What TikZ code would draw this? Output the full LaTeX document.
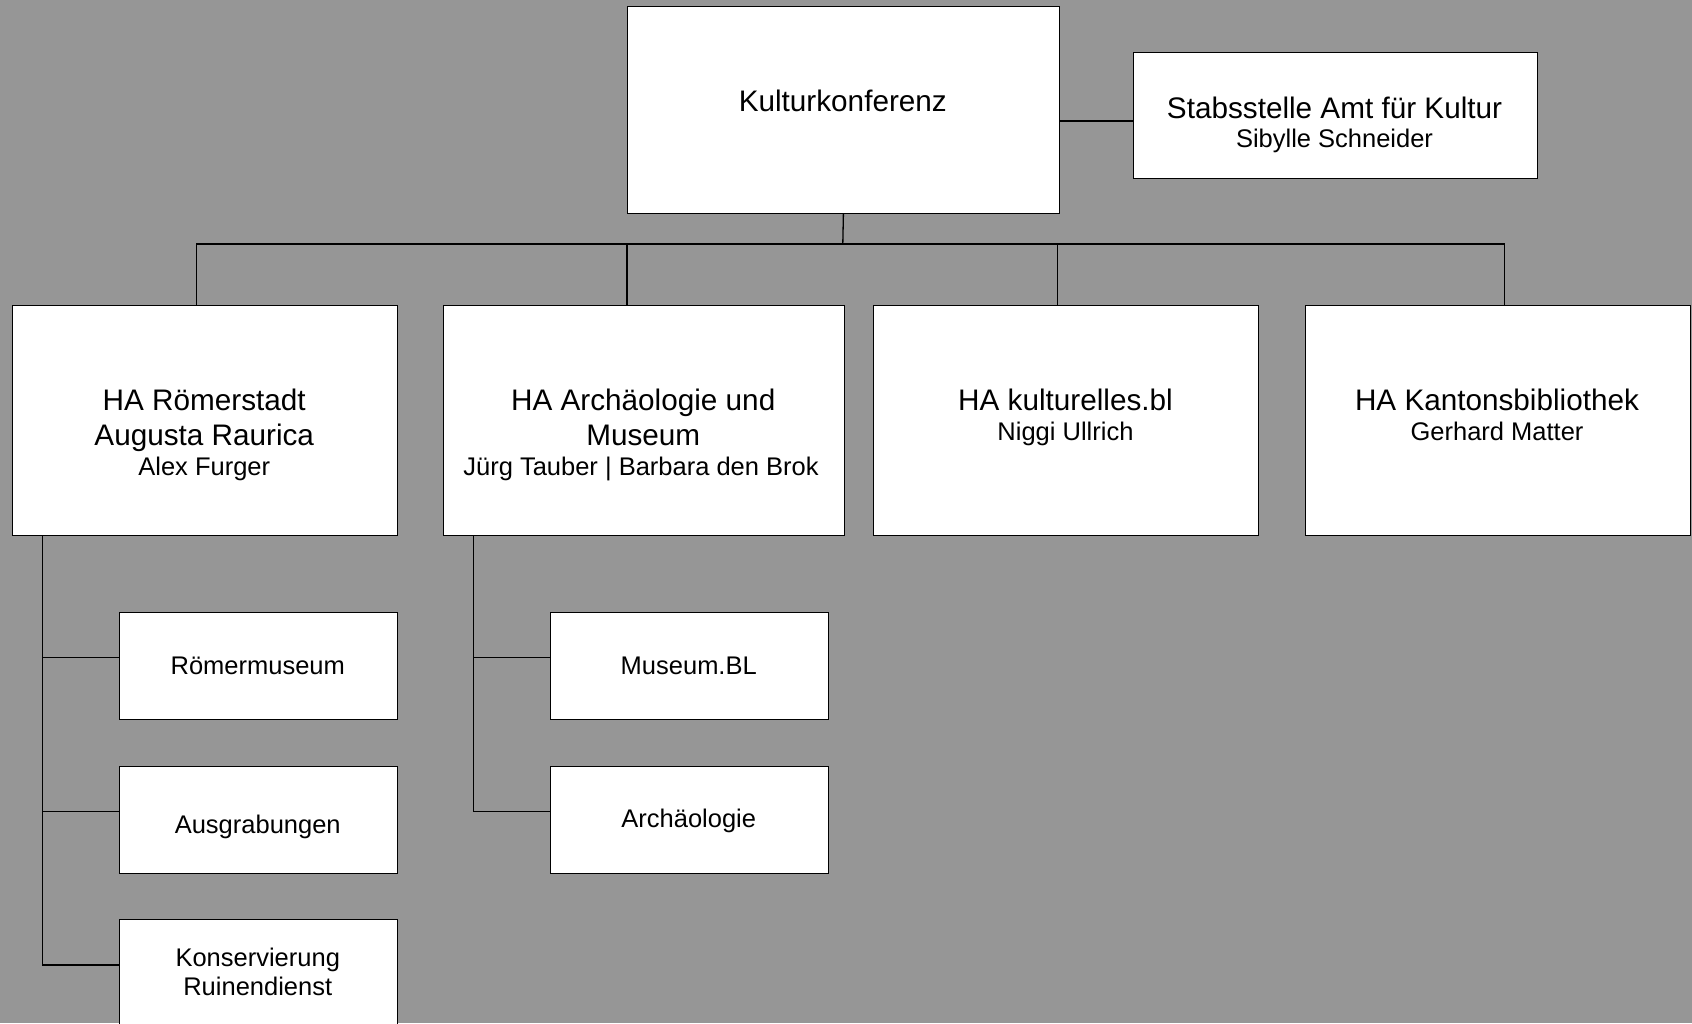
\documentclass[tikz,border=0pt]{standalone}
\usepackage{fontspec}
\setmainfont{Liberation Sans}
\definecolor{bg}{RGB}{150,150,150}
\tikzset{
  box/.style={draw=black, fill=white, line width=1.3pt, rectangle, inner sep=0pt, anchor=north west},
  conn/.style={draw=black, line width=1.3pt},
  big/.style={font=\fontsize{29.7}{35}\selectfont, anchor=base, inner sep=0pt},
  small/.style={font=\fontsize{25.5}{30}\selectfont, anchor=base, inner sep=0pt},
}
\begin{document}
\begin{tikzpicture}[x=1pt,y=-1pt]
\useasboundingbox (0,0) rectangle (1692,1023);
\clip (0,0) rectangle (1692,1023);
\fill[bg] (0,0) rectangle (1692,1023);

% boxes
\node[box, minimum width=431.5pt, minimum height=207pt] (kk) at (627,5.5) {};
\node[box, minimum width=404pt, minimum height=126pt] (stab) at (1132.5,52) {};
\node[box, minimum width=384.5pt, minimum height=229.5pt] (ha1) at (12,305) {};
\node[box, minimum width=401.5pt, minimum height=229.5pt] (ha2) at (442.5,305) {};
\node[box, minimum width=385pt, minimum height=229.5pt] (ha3) at (873,305) {};
\node[box, minimum width=385pt, minimum height=229.5pt] (ha4) at (1304.5,305) {};
\node[box, minimum width=277.5pt, minimum height=107pt] (rm) at (119,612) {};
\node[box, minimum width=277.5pt, minimum height=107pt] (ag) at (119,766) {};
\node[box, minimum width=277.5pt, minimum height=140pt] (ko) at (119,919) {};
\node[box, minimum width=277.5pt, minimum height=107pt] (mb) at (550,612) {};
\node[box, minimum width=277.5pt, minimum height=107pt] (ar) at (550,766) {};

% attach points
\coordinate (bus) at (842.8,244);
\coordinate (sc) at (1100,121);
\coordinate (ha1in) at ([xshift=184.4pt]ha1.north west);
\coordinate (ha2in) at ([xshift=184.5pt]ha2.north west);
\coordinate (ha3in) at ([xshift=184.5pt]ha3.north west);
\coordinate (ha4in) at ([xshift=199.8pt]ha4.north west);
\coordinate (t1) at ([xshift=30.3pt]ha1.south west);
\coordinate (t2) at ([xshift=31pt]ha2.south west);
\coordinate (rmin) at ([yshift=-45.7pt]rm.north west);
\coordinate (agin) at ([yshift=-45.7pt]ag.north west);
\coordinate (koin) at ([yshift=-46pt]ko.north west);
\coordinate (mbin) at ([yshift=-45.7pt]mb.north west);
\coordinate (arin) at ([yshift=-45.7pt]ar.north west);

% connectors
\draw[conn] (kk.south) -- (bus);
\draw[conn] (ha1in) -- (ha1in |- bus) -- (ha4in |- bus) -- (ha4in);
\draw[conn] (ha2in |- bus) -- (ha2in);
\draw[conn] (ha3in |- bus) -- (ha3in);
\draw[conn] (kk.east |- sc) -- (stab.west |- sc);
\draw[conn] (t1) |- (koin);
\draw[conn] (t1 |- rmin) -- (rmin);
\draw[conn] (t1 |- agin) -- (agin);
\draw[conn] (t2) |- (arin);
\draw[conn] (t2 |- mbin) -- (mbin);

% texts
\node[big] (kkt) at (842.8,111) {Kulturkonferenz};
\node[big] (stabt1) at (1334.5,118.3) {Stabsstelle Amt für Kultur};
\node[small] (stabt2) at (1334.5,147.7) {Sibylle Schneider};
\node[big] (ha1t1) at (204.25,410) {HA Römerstadt};
\node[big] (ha1t2) at (204.25,445.7) {Augusta Raurica};
\node[small] (ha1t3) at (204.25,475) {Alex Furger};
\node[big] (ha2t1) at (643.25,410) {HA Archäologie und};
\node[big] (ha2t2) at (643.25,445.7) {Museum};
\node[small] (ha2t3) at (641,475) {Jürg Tauber | Barbara den Brok};
\node[big] (ha3t1) at (1065.5,410) {HA kulturelles.bl};
\node[small] (ha3t2) at (1065.5,440) {Niggi Ullrich};
\node[big] (ha4t1) at (1497,410) {HA Kantonsbibliothek};
\node[small] (ha4t2) at (1497,440) {Gerhard Matter};
\node[small] (rmt) at (257.75,674) {Römermuseum};
\node[small] (agt) at (257.75,833.3) {Ausgrabungen};
\node[small] (kot1) at (257.75,966.7) {Konservierung};
\node[small] (kot2) at (257.75,995.7) {Ruinendienst};
\node[small] (mbt) at (688.75,674) {Museum.BL};
\node[small] (art) at (688.75,827.3) {Archäologie};
\end{tikzpicture}
\end{document}
